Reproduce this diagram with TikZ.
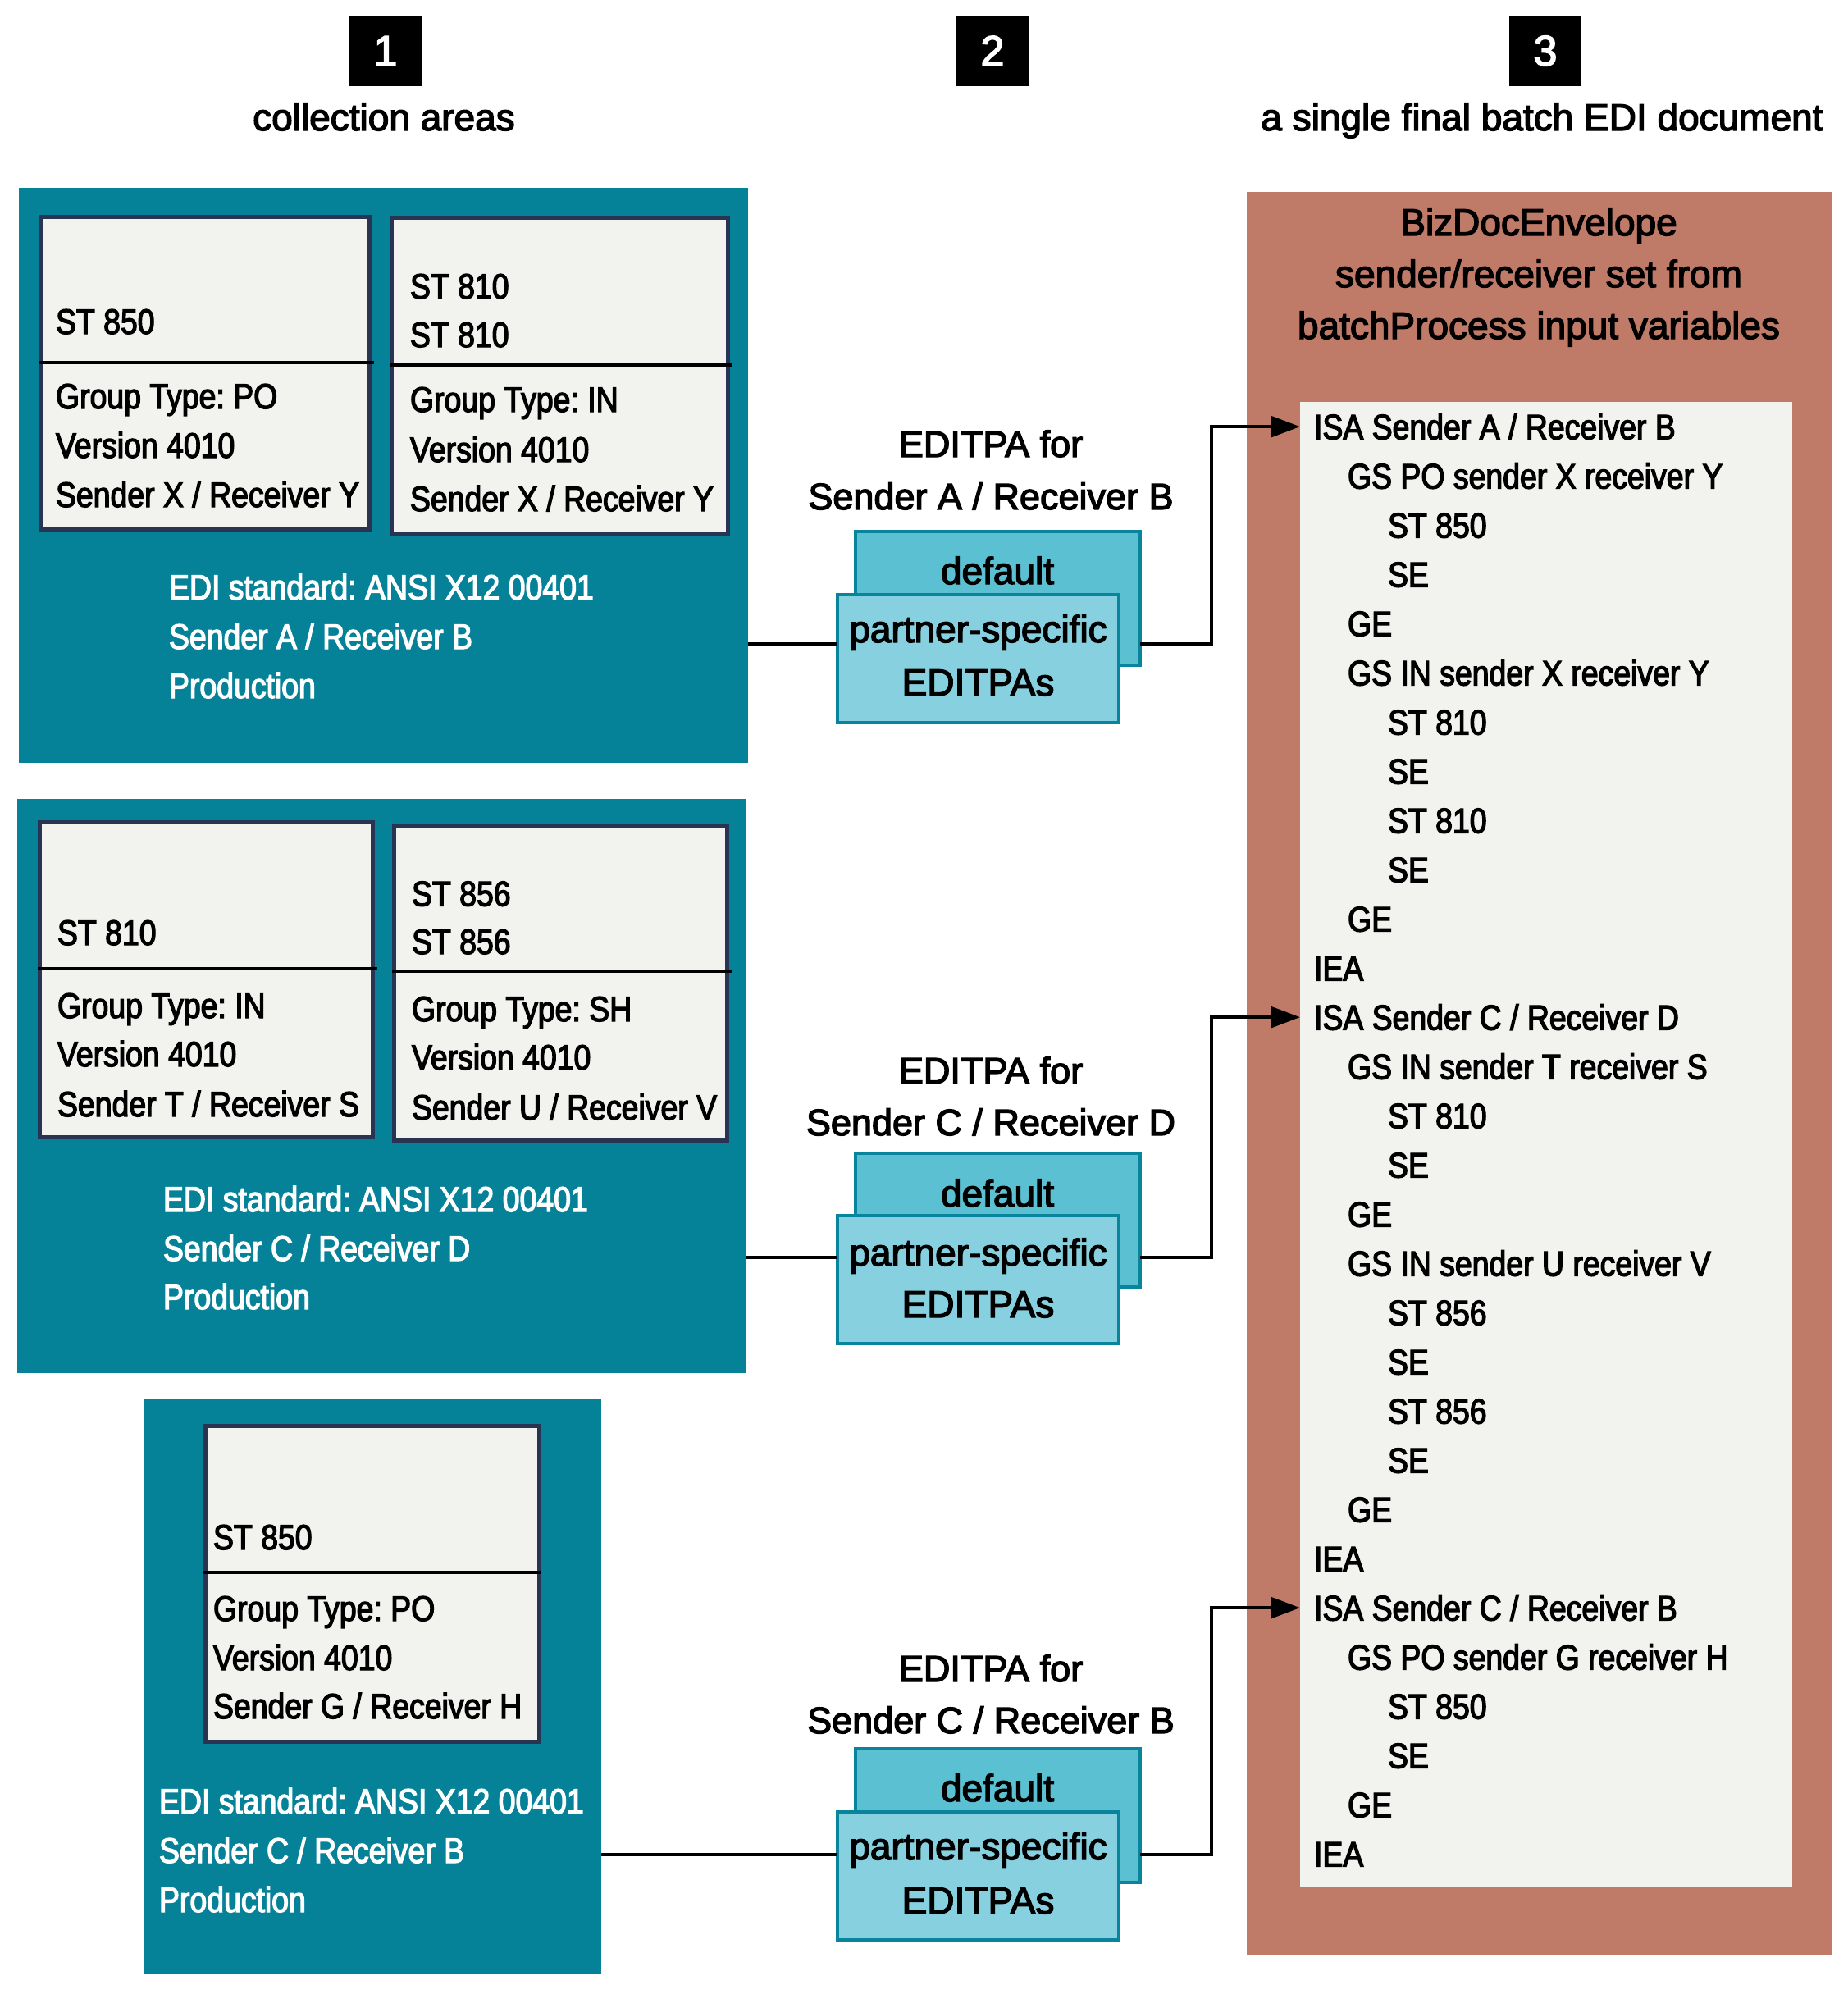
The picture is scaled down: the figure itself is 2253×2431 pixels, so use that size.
\documentclass[tikz,border=0pt]{standalone}
\usepackage{fontspec}
\setmainfont[FakeBold=3]{Liberation Sans}
\newfontfamily\narrowf[FakeStretch=0.87,FakeBold=3]{Liberation Sans}
\usetikzlibrary{arrows.meta}
\definecolor{tealc}{RGB}{5,130,152}
\definecolor{lightc}{RGB}{242,243,239}
\definecolor{navyc}{RGB}{40,52,82}
\definecolor{defc}{RGB}{91,192,210}
\definecolor{frontc}{RGB}{135,208,223}
\definecolor{edgec}{RGB}{8,132,156}
\definecolor{brownc}{RGB}{192,122,104}
\tikzset{
  every node/.style={inner sep=0pt, outer sep=0pt},
  area/.style={fill=tealc, draw=none, anchor=north west},
  rec/.style={fill=lightc, draw=navyc, line width=5pt, anchor=north west},
  divider/.style={draw=black, line width=4pt},
  st/.style={font=\narrowf\fontsize{43}{60}\selectfont, text=black, anchor=base west},
  wt/.style={st, text=white},
  big/.style={font=\fontsize{46}{64}\selectfont, text=black, anchor=base},
  lab/.style={font=\fontsize{45}{64}\selectfont, text=black, anchor=base},
  numsq/.style={fill=black, text=white, minimum width=88pt, minimum height=86pt, font=\fontsize{52}{60}\selectfont},
  backbox/.style={fill=defc, draw=edgec, line width=4.5pt, anchor=north west, minimum width=347pt, minimum height=163pt},
  frontbox/.style={fill=frontc, draw=edgec, line width=4.5pt, anchor=north west, minimum width=343pt, minimum height=156pt},
  conn/.style={draw=black, line width=4pt},
  arr/.style={conn, -{Triangle[length=36pt,width=26pt]}}
}
\begin{document}
\frenchspacing
\begin{tikzpicture}[x=1pt,y=-1pt]
\useasboundingbox (0,0) rectangle (2253,2431);

% headers
\node[numsq] (n1) at (470,62) {1};
\node[numsq] (n2) at (1210,62) {2};
\node[numsq] (n3) at (1884,62) {3};
\node[big] (h1) at (468,159) {collection areas};
\node[big] (h3) at (1880,159) {a single final batch EDI document};

% collection area 1
\node[area, minimum width=889pt, minimum height=701pt] (g1) at (23,229) {};
\node[rec, minimum width=401pt, minimum height=381pt] (a1) at (49.5,264.5) {};
\node[rec, minimum width=410pt, minimum height=386pt] (b1) at (477.5,265.5) {};
\draw[divider] (47,442) -- (456,442);
\draw[divider] (475,445) -- (892,445);
\node[st] (a1t1) at (68,407) {ST 850};
\node[st] (a1t2) at (68,498) {Group Type: PO};
\node[st] (a1t3) at (68,558) {Version 4010};
\node[st] (a1t4) at (68,618) {Sender X / Receiver Y};
\node[st] (b1t1) at (500,364) {ST 810};
\node[st] (b1t2) at (500,423) {ST 810};
\node[st] (b1t3) at (500,502) {Group Type: IN};
\node[st] (b1t4) at (500,563) {Version 4010};
\node[st] (b1t5) at (500,623) {Sender X / Receiver Y};
\node[wt] (g1t1) at (206,731) {EDI standard: ANSI X12 00401};
\node[wt] (g1t2) at (206,791) {Sender A / Receiver B};
\node[wt] (g1t3) at (206,851) {Production};

% collection area 2
\node[area, minimum width=888pt, minimum height=700pt] (g2) at (21,974) {};
\node[rec, minimum width=406pt, minimum height=384pt] (a2) at (48.5,1002.5) {};
\node[rec, minimum width=406pt, minimum height=384pt] (b2) at (480.5,1006.5) {};
\draw[divider] (46,1181) -- (460,1181);
\draw[divider] (478,1184) -- (892,1184);
\node[st] (a2t1) at (70,1152) {ST 810};
\node[st] (a2t2) at (70,1241) {Group Type: IN};
\node[st] (a2t3) at (70,1300) {Version 4010};
\node[st] (a2t4) at (70,1361) {Sender T / Receiver S};
\node[st] (b2t1) at (502,1104.5) {ST 856};
\node[st] (b2t2) at (502,1163) {ST 856};
\node[st] (b2t3) at (502,1245) {Group Type: SH};
\node[st] (b2t4) at (502,1304) {Version 4010};
\node[st] (b2t5) at (502,1365) {Sender U / Receiver V};
\node[wt] (g2t1) at (199,1477) {EDI standard: ANSI X12 00401};
\node[wt] (g2t2) at (199,1537) {Sender C / Receiver D};
\node[wt] (g2t3) at (199,1596) {Production};

% collection area 3
\node[area, minimum width=558pt, minimum height=701pt] (g3) at (175,1706) {};
\node[rec, minimum width=407pt, minimum height=385pt] (a3) at (250.5,1738.5) {};
\draw[divider] (248,1917) -- (660,1917);
\node[st] (a3t1) at (260,1889) {ST 850};
\node[st] (a3t2) at (260,1976) {Group Type: PO};
\node[st] (a3t3) at (260,2036) {Version 4010};
\node[st] (a3t4) at (260,2095) {Sender G / Receiver H};
\node[wt] (g3t1) at (194,2211) {EDI standard: ANSI X12 00401};
\node[wt] (g3t2) at (194,2271) {Sender C / Receiver B};
\node[wt] (g3t3) at (194,2331) {Production};

% EDITPA groups
\node[lab] (e1a) at (1208,557) {EDITPA for};
\node[lab] (e1b) at (1208,621) {Sender A / Receiver B};
\node[backbox] (k1) at (1043,648) {};
\node[frontbox] (f1) at (1021,725) {};
\node[big] (k1t) at (1216,712) {default};
\node[big] (f1t1) at (1192.5,783) {partner-specific};
\node[big] (f1t2) at (1192.5,848) {EDITPAs};

\node[lab] (e2a) at (1208,1321) {EDITPA for};
\node[lab] (e2b) at (1208,1384) {Sender C / Receiver D};
\node[backbox] (k2) at (1043,1406) {};
\node[frontbox] (f2) at (1021,1482) {};
\node[big] (k2t) at (1216,1471) {default};
\node[big] (f2t1) at (1192.5,1543) {partner-specific};
\node[big] (f2t2) at (1192.5,1606) {EDITPAs};

\node[lab] (e3a) at (1208,2050) {EDITPA for};
\node[lab] (e3b) at (1208,2113) {Sender C / Receiver B};
\node[backbox] (k3) at (1043,2132) {};
\node[frontbox] (f3) at (1021,2209) {};
\node[big] (k3t) at (1216,2196) {default};
\node[big] (f3t1) at (1192.5,2267) {partner-specific};
\node[big] (f3t2) at (1192.5,2333) {EDITPAs};

% final batch document
\node[fill=brownc, anchor=north west, minimum width=713pt, minimum height=2149pt] (env) at (1520,234) {};
\node[big] (env1) at (1876,287) {BizDocEnvelope};
\node[big] (env2) at (1876,350) {sender/receiver set from};
\node[big] (env3) at (1876,413) {batchProcess input variables};
\node[fill=lightc, anchor=north west, minimum width=600pt, minimum height=1811pt] (doc) at (1585,490) {};
\foreach \i/\x/\t in {
  0/1602/{ISA Sender A / Receiver B},
  1/1643/{GS PO sender X receiver Y},
  2/1692/{ST 850}, 3/1692/{SE}, 4/1643/{GE},
  5/1643/{GS IN sender X receiver Y},
  6/1692/{ST 810}, 7/1692/{SE}, 8/1692/{ST 810}, 9/1692/{SE},
  10/1643/{GE}, 11/1602/{IEA},
  12/1602/{ISA Sender C / Receiver D},
  13/1643/{GS IN sender T receiver S},
  14/1692/{ST 810}, 15/1692/{SE}, 16/1643/{GE},
  17/1643/{GS IN sender U receiver V},
  18/1692/{ST 856}, 19/1692/{SE}, 20/1692/{ST 856}, 21/1692/{SE},
  22/1643/{GE}, 23/1602/{IEA},
  24/1602/{ISA Sender C / Receiver B},
  25/1643/{GS PO sender G receiver H},
  26/1692/{ST 850}, 27/1692/{SE}, 28/1643/{GE}, 29/1602/{IEA}}
{
  \node[st] (l\i) at (\x,{535.5+60*\i}) {\t};
}

% connectors
\coordinate (c1) at (0,785);
\coordinate (c2) at (0,1533);
\coordinate (c3) at (0,2261);
\coordinate (v) at (1477,0);
\draw[conn] (g1.east |- c1) -- (f1.west |- c1);
\draw[conn] (g2.east |- c2) -- (f2.west |- c2);
\draw[conn] (g3.east |- c3) -- (f3.west |- c3);
\draw[arr] (k1.east |- c1) -| (v |- l0) -- (doc.west |- l0);
\draw[arr] (k2.east |- c2) -| (v |- l12) -- (doc.west |- l12);
\draw[arr] (k3.east |- c3) -| (v |- l24) -- (doc.west |- l24);
\end{tikzpicture}
\end{document}
